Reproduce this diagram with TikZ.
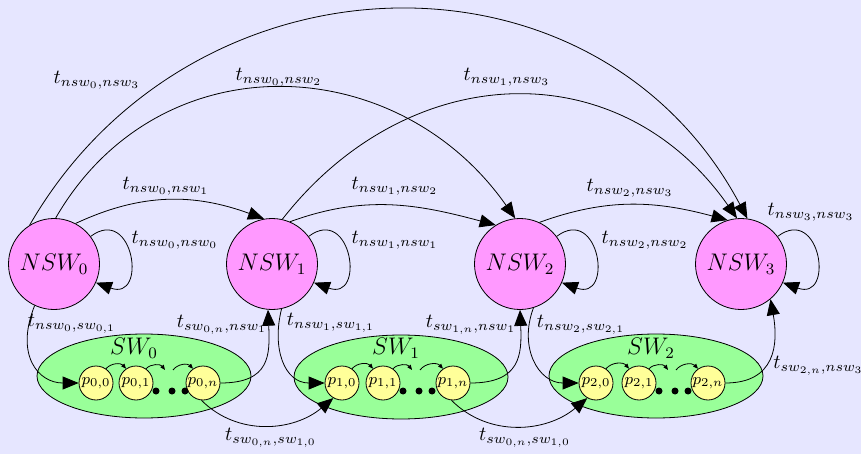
\documentclass[tikz,border=0pt]{standalone}
\usetikzlibrary{shapes.geometric,arrows.meta}
\definecolor{bgcol}{RGB}{230,230,255}
\definecolor{nswcol}{RGB}{255,153,255}
\definecolor{swcol}{RGB}{153,255,153}
\definecolor{placecol}{RGB}{255,255,153}
\begin{document}
\begin{tikzpicture}[x=0.5pt,y=0.5pt,
  nsw/.style={circle,draw,fill=nswcol,minimum size=45.5pt,inner sep=0pt,font=\large},
  swbox/.style={ellipse,draw,fill=swcol,minimum width=107pt,minimum height=42pt,inner sep=0pt},
  plc/.style={circle,draw,fill=placecol,minimum size=17pt,inner sep=0pt,font=\footnotesize},
  flow/.style={-{Triangle[length=8pt,width=6.5pt]}},
  minitip/.style={-{Triangle[length=2.5pt,width=2pt]}},
  lbl/.style={inner sep=0pt},
  blob/.style={circle,fill,inner sep=0pt,minimum size=3.5pt}]

% canvas
\fill[bgcol] (0,0) rectangle (861,-454);
\useasboundingbox (0,0) rectangle (861,-454);

% non-switching states
\node[nsw] (N0) at (54,-264)  {$NSW_0$};
\node[nsw] (N1) at (272,-264) {$NSW_1$};
\node[nsw] (N2) at (520,-264) {$NSW_2$};
\node[nsw] (N3) at (741,-264) {$NSW_3$};

% switching groups
\node[swbox] (S0) at (144,-376) {};
\node[swbox] (S1) at (401,-377) {};
\node[swbox] (S2) at (656,-376) {};
\node[lbl,font=\large] (S0l) at (134,-348) {$SW_0$};
\node[lbl,font=\large] (S1l) at (396,-348) {$SW_1$};
\node[lbl,font=\large] (S2l) at (651,-348) {$SW_2$};

% places inside the groups
\node[plc] (p00) at (96,-383)  {$p_{0,0}$};
\node[plc] (p01) at (136,-383) {$p_{0,1}$};
\node[plc] (p0n) at (203,-383) {$p_{0,n}$};
\node[plc] (p10) at (342,-383) {$p_{1,0}$};
\node[plc] (p11) at (383,-383) {$p_{1,1}$};
\node[plc] (p1n) at (453,-383) {$p_{1,n}$};
\node[plc] (p20) at (596,-383) {$p_{2,0}$};
\node[plc] (p21) at (639,-383) {$p_{2,1}$};
\node[plc] (p2n) at (708,-383) {$p_{2,n}$};

% ellipsis dots
\node[blob] (d0a) at (156,-391) {};
\node[blob] (d0b) at (172,-391) {};
\node[blob] (d0c) at (185,-391) {};
\node[blob] (d1a) at (403,-391) {};
\node[blob] (d1b) at (419,-391) {};
\node[blob] (d1c) at (432,-391) {};
\node[blob] (d2a) at (659,-391) {};
\node[blob] (d2b) at (675,-391) {};
\node[blob] (d2c) at (688,-391) {};

% gaps of the chains
\coordinate (g0a) at (165,-370);
\coordinate (g0b) at (173,-370);
\coordinate (g1a) at (412,-370);
\coordinate (g1b) at (420,-370);
\coordinate (g2a) at (668,-370);
\coordinate (g2b) at (676,-370);

% chain arrows
\foreach \i in {0,1,2}{
  \draw[minitip] (p\i0.55) to[bend left=50] (p\i1.125);
  \draw[minitip] (p\i1.55) to[bend left=50] (g\i a);
  \draw[minitip] (g\i b) to[bend left=50] (p\i n.125);
}

% transitions between neighbouring states
\draw[flow] (N0.62) to[out=25,in=160] (N1.100);
\draw[flow] (N1.67) to[out=20,in=165] (N2.122);
\draw[flow] (N2.65) to[out=20,in=165] (N3.107);

% long transitions
\draw[flow] (N0.88) to[out=60,in=125,looseness=1.15] (N2.96);
\draw[flow] (N0.122) to[out=60,in=118,looseness=1.15] (N3.82);
\draw[flow] (N1.77) to[out=52,in=125,looseness=1.15] (N3.95);

% self loops
\foreach \k in {0,1,2,3}{
  \draw[flow] (N\k.37) .. controls +(43,32) and +(52,-19) .. (N\k.-24);
}

% into and out of the switching groups
\draw[flow] (N0.-115) .. controls +(-20,-50) and +(-40,0) .. (p00.west);
\draw[flow] (p0n.east) .. controls +(50,0) and +(2,-45) .. (N1.-95);
\draw[flow] (p0n.-95) to[out=-45,in=-140] (p10.-120);
\draw[flow] (N1.-78) .. controls +(-10,-40) and +(-40,0) .. (p10.west);
\draw[flow] (p1n.east) .. controls +(50,0) and +(2,-45) .. (N2.-90);
\draw[flow] (p1n.-95) to[out=-45,in=-140] (p20.-120);
\draw[flow] (N2.-73) .. controls +(-15,-40) and +(-40,0) .. (p20.west);
\draw[flow] (p2n.east) .. controls +(50,0) and +(8,-45) .. (N3.-50);

% transition labels
\node[lbl] (l00) at (175,-240) {$t_{nsw_0,nsw_0}$};
\node[lbl] (l11) at (395,-240) {$t_{nsw_1,nsw_1}$};
\node[lbl] (l22) at (645,-240) {$t_{nsw_2,nsw_2}$};
\node[lbl] (l33) at (811,-212) {$t_{nsw_3,nsw_3}$};
\node[lbl] (l01) at (166,-186) {$t_{nsw_0,nsw_1}$};
\node[lbl] (l12) at (395,-186) {$t_{nsw_1,nsw_2}$};
\node[lbl] (l23) at (630,-188) {$t_{nsw_2,nsw_3}$};
\node[lbl] (l03) at (97,-80)   {$t_{nsw_0,nsw_3}$};
\node[lbl] (l02) at (279,-77)  {$t_{nsw_0,nsw_2}$};
\node[lbl] (l13) at (507,-77)  {$t_{nsw_1,nsw_3}$};
\node[lbl] (la) at (72,-324)  {$t_{nsw_0,sw_{0,1}}$};
\node[lbl] (lb) at (222,-325) {$t_{sw_{0,n},nsw_1}$};
\node[lbl] (lc) at (331,-323) {$t_{nsw_1,sw_{1,1}}$};
\node[lbl] (ld) at (471,-325) {$t_{sw_{1,n},nsw_1}$};
\node[lbl] (le) at (581,-325) {$t_{nsw_2,sw_{2,1}}$};
\node[lbl,anchor=west] (lf) at (773,-366) {$t_{sw_{2,n},nsw_3}$};
\node[lbl] (lg) at (271,-438) {$t_{sw_{0,n},sw_{1,0}}$};
\node[lbl] (lh) at (525,-438) {$t_{sw_{0,n},sw_{1,0}}$};
\end{tikzpicture}
\end{document}
